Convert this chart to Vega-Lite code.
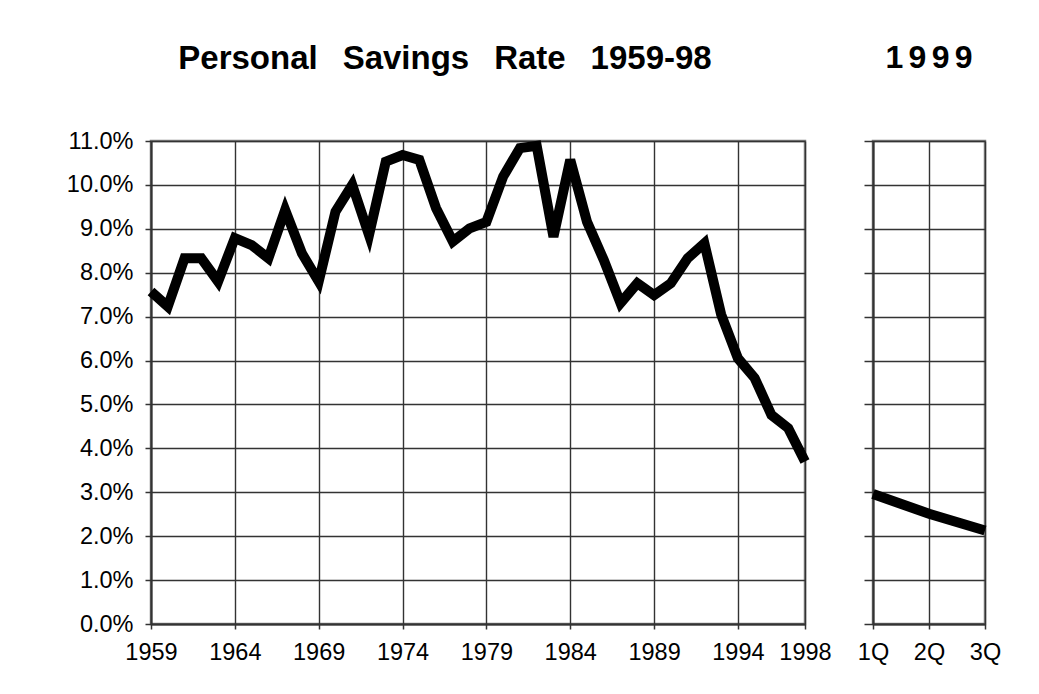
{
  "$schema": "https://vega.github.io/schema/vega-lite/v6.json",
  "background": "white",
  "autosize": {"type": "pad"},
  "padding": {"left": 65, "top": 41, "right": 5, "bottom": 5},
  "spacing": 18,
  "config": {
    "font": "Liberation Sans",
    "view": {"stroke": "#808080", "strokeWidth": 2.5},
    "axis": {
      "labelFont": "Liberation Sans",
      "labelFontSize": 23.5,
      "labelColor": "black",
      "gridColor": "#333333",
      "gridWidth": 1.4,
      "gridOpacity": 1,
      "domainColor": "#333333",
      "domainWidth": 2,
      "tickColor": "#333333",
      "tickWidth": 1.5,
      "labelOverlap": false,
      "labelFlush": false
    },
    "title": {
      "font": "Liberation Sans",
      "fontWeight": "bold",
      "color": "black",
      "baseline": "alphabetic"
    }
  },
  "hconcat": [
    {
      "width": 654,
      "height": 483,
      "title": {"text": "Personal\u00a0\u00a0\u2009Savings\u00a0\u00a0\u2009Rate\u00a0\u00a0\u20091959-98", "anchor": "middle", "frame": "group", "fontSize": 33, "offset": 50, "dx": -33},
      "data": {
        "values": [
          {"year": 1959, "rate": 0.0757},
          {"year": 1960, "rate": 0.0723},
          {"year": 1961, "rate": 0.0833},
          {"year": 1962, "rate": 0.0833},
          {"year": 1963, "rate": 0.0780},
          {"year": 1964, "rate": 0.0879},
          {"year": 1965, "rate": 0.0863},
          {"year": 1966, "rate": 0.0833},
          {"year": 1967, "rate": 0.0943},
          {"year": 1968, "rate": 0.0844},
          {"year": 1969, "rate": 0.0780},
          {"year": 1970, "rate": 0.0939},
          {"year": 1971, "rate": 0.1000},
          {"year": 1972, "rate": 0.0886},
          {"year": 1973, "rate": 0.1053},
          {"year": 1974, "rate": 0.1068},
          {"year": 1975, "rate": 0.1057},
          {"year": 1976, "rate": 0.0947},
          {"year": 1977, "rate": 0.0871},
          {"year": 1978, "rate": 0.0901},
          {"year": 1979, "rate": 0.0916},
          {"year": 1980, "rate": 0.1019},
          {"year": 1981, "rate": 0.1084},
          {"year": 1982, "rate": 0.1089},
          {"year": 1983, "rate": 0.0882},
          {"year": 1984, "rate": 0.1057},
          {"year": 1985, "rate": 0.0916},
          {"year": 1986, "rate": 0.0829},
          {"year": 1987, "rate": 0.0731},
          {"year": 1988, "rate": 0.0776},
          {"year": 1989, "rate": 0.0749},
          {"year": 1990, "rate": 0.0776},
          {"year": 1991, "rate": 0.0833},
          {"year": 1992, "rate": 0.0867},
          {"year": 1993, "rate": 0.0705},
          {"year": 1994, "rate": 0.0605},
          {"year": 1995, "rate": 0.0560},
          {"year": 1996, "rate": 0.0476},
          {"year": 1997, "rate": 0.0446},
          {"year": 1998, "rate": 0.0370}
        ]
      },
      "mark": {"type": "line", "color": "black", "strokeWidth": 10, "strokeJoin": "miter", "strokeCap": "butt", "clip": false},
      "encoding": {
        "x": {
          "field": "year",
          "type": "quantitative",
          "scale": {"domain": [1959, 1998], "nice": false, "zero": false},
          "axis": {
            "title": null,
            "values": [1959, 1964, 1969, 1974, 1979, 1984, 1989, 1994, 1998],
            "format": "d",
            "tickSize": 5,
            "labelPadding": 11,
            "grid": true
          }
        },
        "y": {
          "field": "rate",
          "type": "quantitative",
          "scale": {"domain": [0, 0.11], "nice": false},
          "axis": {
            "title": null,
            "values": [0, 0.01, 0.02, 0.03, 0.04, 0.05, 0.06, 0.07, 0.08, 0.09, 0.10, 0.11],
            "format": ".1%",
            "tickSize": 6,
            "labelPadding": 12,
            "grid": true
          }
        }
      }
    },
    {
      "width": 112,
      "height": 483,
      "title": {"text": "1\u20069\u20069\u20069", "anchor": "middle", "frame": "group", "fontSize": 32, "offset": 65},
      "data": {
        "values": [
          {"q": "1Q", "rate": 0.0296},
          {"q": "2Q", "rate": 0.0251},
          {"q": "3Q", "rate": 0.0213}
        ]
      },
      "mark": {"type": "line", "color": "black", "strokeWidth": 10, "strokeJoin": "miter", "strokeCap": "butt", "clip": false},
      "encoding": {
        "x": {
          "field": "q",
          "type": "ordinal",
          "sort": null,
          "scale": {"type": "point", "padding": 0},
          "axis": {"title": null, "labelAngle": 0, "tickSize": 5, "labelPadding": 11, "grid": true}
        },
        "y": {
          "field": "rate",
          "type": "quantitative",
          "scale": {"domain": [0, 0.11], "nice": false},
          "axis": {
            "title": null,
            "values": [0, 0.01, 0.02, 0.03, 0.04, 0.05, 0.06, 0.07, 0.08, 0.09, 0.10, 0.11],
            "labels": false,
            "tickSize": 9,
            "grid": true
          }
        }
      }
    }
  ]
}
